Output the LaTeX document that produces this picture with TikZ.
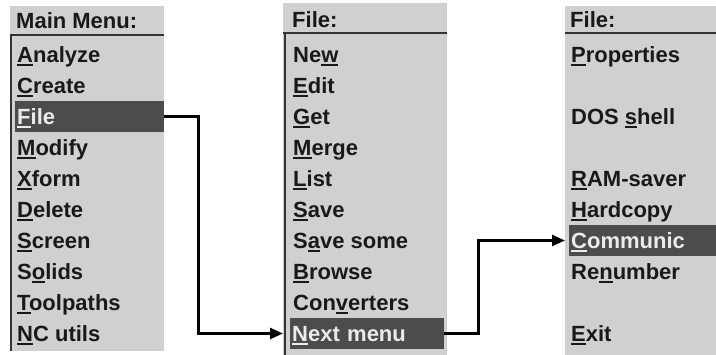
\documentclass[tikz,border=0pt]{standalone}
\usepackage{fontspec}
\setmainfont{Liberation Sans}
\usetikzlibrary{arrows.meta}

\definecolor{menugray}{RGB}{208,208,208}
\definecolor{selgray}{RGB}{76,76,76}

% hot key letter, underlined
\newcommand{\hk}[1]{\setbox0=\hbox{#1}\rlap{\rule[-2.6pt]{\wd0}{1.7pt}}#1}

\tikzset{
  panel/.style={fill=menugray, anchor=north west, inner sep=0pt},
  sepline/.style={line width=2pt, black!80},
  item/.style={anchor=base west, inner sep=0pt, text=black!90,
    font=\bfseries\fontsize{22}{24}\selectfont},
  sel/.style={item, fill=selgray, text=white!92!black, inner xsep=2pt,
    text height=24pt, text depth=7pt, text width=#1, align=left},
  link/.style={line width=2.6pt, -{Triangle[length=13pt,width=11pt]}}
}

\begin{document}
\begin{tikzpicture}[x=1pt,y=-1pt]
\useasboundingbox (0,0) rectangle (716,355);

% the three menu panels
\node[panel, minimum width=154pt, minimum height=345pt] (p1) at (10,6) {};
\node[panel, minimum width=164pt, minimum height=352pt] (p2) at (283,3) {};
\node[panel, minimum width=151pt, minimum height=349pt] (p3) at (565,6) {};

\draw[sepline] ([yshift=-29pt]p1.north west) -- ([yshift=-29pt]p1.north east);
\draw[sepline] ([xshift=1pt,yshift=-29pt]p1.north west) -- ([xshift=1pt]p1.south west);
\draw[sepline] ([yshift=-30pt]p2.north west) -- ([yshift=-30pt]p2.north east);
\draw[sepline] ([xshift=2pt,yshift=-30pt]p2.north west) -- ([xshift=2pt]p2.south west);
\draw[sepline] ([yshift=-27pt]p3.north west) -- ([yshift=-27pt]p3.north east);

% main menu
\node[item] (mhead) at (16,29) {Main Menu:};
\foreach \i/\txt in {1/\hk{A}nalyze, 2/\hk{C}reate, 4/\hk{M}odify, 5/\hk{X}form,
    6/\hk{D}elete, 7/\hk{S}creen, 8/S\hk{o}lids, 9/\hk{T}oolpaths, 10/\hk{N}C utils}
  \node[item] (main\i) at (17,{32+31*\i}) {\txt};
\node[sel=145pt] (mfile) at (15,125) {\hk{F}ile};

% file menu, first page
\node[item] (fhead) at (292,28) {File:};
\foreach \i/\txt in {1/Ne\hk{w}, 2/\hk{E}dit, 3/\hk{G}et, 4/\hk{M}erge, 5/\hk{L}ist,
    6/\hk{S}ave, 7/S\hk{a}ve some, 8/\hk{B}rowse, 9/Con\hk{v}erters}
  \node[item] (file\i) at (293,{32+31*\i}) {\txt};
\node[sel=150pt] (nnext) at (290,342) {\hk{N}ext menu};

% file menu, second page
\node[item] (xhead) at (570,28) {File:};
\foreach \i/\txt in {1/\hk{P}roperties, 3/DOS \hk{s}hell, 5/\hk{R}AM-saver,
    6/\hk{H}ardcopy, 8/Re\hk{n}umber, 10/\hk{E}xit}
  \node[item] (more\i) at (571,{32+31*\i}) {\txt};
\node[sel=143pt] (ncomm) at (569,249) {\hk{C}ommunic};

% links between the menus
\draw[link] (mfile.east) -- ++(34,0) |- (p2.west |- nnext.west);
\draw[link] (nnext.east) -- ++(34,0) |- (p3.west |- ncomm.west);
\end{tikzpicture}
\end{document}
